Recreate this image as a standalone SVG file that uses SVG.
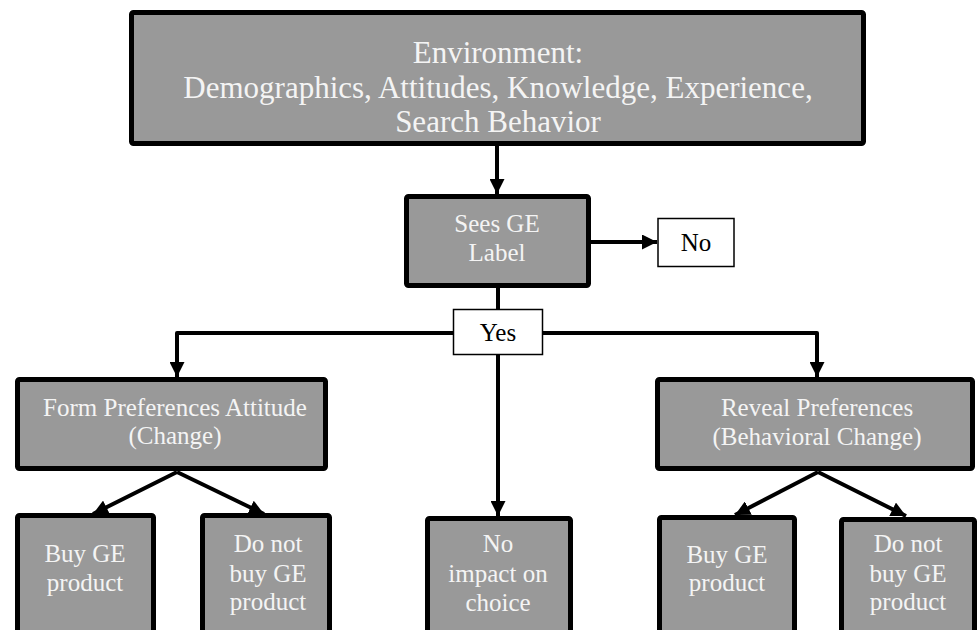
<svg xmlns="http://www.w3.org/2000/svg" width="978" height="630" viewBox="0 0 978 630">
<defs>
<marker id="ah" markerUnits="userSpaceOnUse" markerWidth="15" markerHeight="15" refX="15" refY="7.5" orient="auto">
<path d="M0,0 L15,7.5 L0,15 z" fill="#000"/>
</marker>
<style>
.box{fill:#999999;stroke:#000;stroke-width:5;}
.wbox{fill:#fff;stroke:#000;stroke-width:1.5;}
.t{font-family:"Liberation Serif","Times New Roman",serif;fill:#f4f4f4;text-anchor:middle;font-size:25px;}
.tb{font-family:"Liberation Serif","Times New Roman",serif;fill:#000;text-anchor:middle;font-size:25px;}
.big{font-size:31px;}
.c{fill:none;stroke:#000;stroke-width:4;stroke-linejoin:round;}
</style>
</defs>
<rect width="978" height="630" fill="#fff"/>
<g id="connectors">
<line class="c" x1="497" y1="146" x2="497" y2="194" marker-end="url(#ah)"/>
<line class="c" x1="591" y1="242" x2="657" y2="242" marker-end="url(#ah)"/>
<line class="c" x1="498" y1="288" x2="498" y2="310"/>
<path class="c" d="M 454 333 H 177 V 377" marker-end="url(#ah)"/>
<path class="c" d="M 542 333 H 817 V 377" marker-end="url(#ah)"/>
<line class="c" x1="498" y1="354" x2="498" y2="516" marker-end="url(#ah)"/>
<line class="c" x1="177" y1="472" x2="93" y2="514" marker-end="url(#ah)"/>
<line class="c" x1="177" y1="472" x2="264" y2="514" marker-end="url(#ah)"/>
<line class="c" x1="818" y1="472" x2="735" y2="515" marker-end="url(#ah)"/>
<line class="c" x1="818" y1="472" x2="906" y2="516" marker-end="url(#ah)"/>
</g>
<g id="environment">
<rect class="box" x="131.5" y="12.5" width="732" height="131" rx="2"/>
<text class="t big" x="498" y="63">Environment:</text>
<text class="t big" x="498" y="98">Demographics, Attitudes, Knowledge, Experience,</text>
<text class="t big" x="498" y="132">Search Behavior</text>
</g>
<g id="sees">
<rect class="box" x="406.5" y="196.5" width="182" height="89" rx="2"/>
<text class="t" x="497" y="232">Sees GE</text>
<text class="t" x="497" y="261">Label</text>
</g>
<g id="no">
<rect class="wbox" x="658" y="218.5" width="76" height="48"/>
<text class="tb" x="696" y="251">No</text>
</g>
<g id="yes">
<rect class="wbox" x="453.5" y="309.5" width="89" height="45"/>
<text class="tb" x="498" y="341">Yes</text>
</g>
<g id="form">
<rect class="box" x="17.5" y="379.5" width="308" height="89" rx="2"/>
<text class="t" x="175" y="416">Form Preferences Attitude</text>
<text class="t" x="175" y="444">(Change)</text>
</g>
<g id="reveal">
<rect class="box" x="657.5" y="379.5" width="315" height="89" rx="2"/>
<text class="t" x="817" y="416">Reveal Preferences</text>
<text class="t" x="817" y="445">(Behavioral Change)</text>
</g>
<g id="buy1">
<rect class="box" x="17.5" y="515.5" width="136" height="130" rx="2"/>
<text class="t" x="85" y="562">Buy GE</text>
<text class="t" x="85" y="591">product</text>
</g>
<g id="dont1">
<rect class="box" x="202.5" y="515.5" width="127" height="130" rx="2"/>
<text class="t" x="268" y="552">Do not</text>
<text class="t" x="268" y="582">buy GE</text>
<text class="t" x="268" y="610">product</text>
</g>
<g id="noimpact">
<rect class="box" x="427.5" y="518.5" width="143" height="130" rx="2"/>
<text class="t" x="498" y="552">No</text>
<text class="t" x="498" y="582">impact on</text>
<text class="t" x="498" y="611">choice</text>
</g>
<g id="buy2">
<rect class="box" x="659.5" y="517.5" width="135" height="130" rx="2"/>
<text class="t" x="727" y="563">Buy GE</text>
<text class="t" x="727" y="591">product</text>
</g>
<g id="dont2">
<rect class="box" x="841.5" y="519.5" width="133" height="130" rx="2"/>
<text class="t" x="908" y="552">Do not</text>
<text class="t" x="908" y="582">buy GE</text>
<text class="t" x="908" y="610">product</text>
</g>
</svg>
